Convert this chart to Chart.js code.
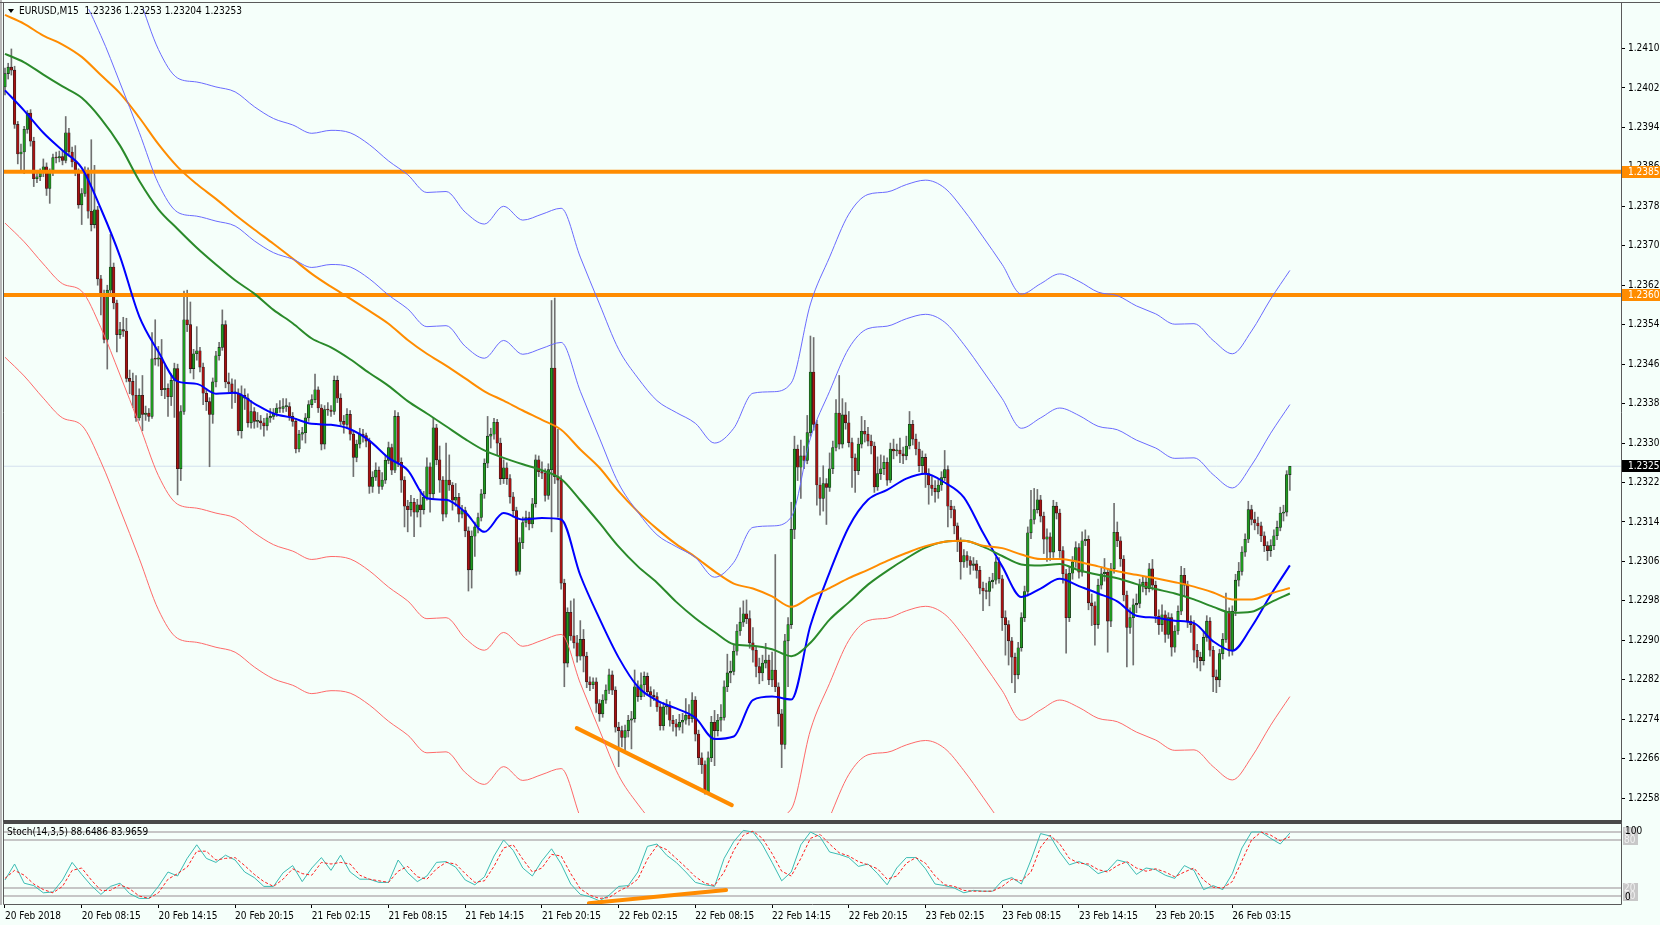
<!DOCTYPE html>
<html>
<head>
<meta charset="utf-8">
<title>EURUSD,M15</title>
<script src="https://cdn.jsdelivr.net/npm/chart.js@4.4.1/dist/chart.umd.min.js"></script>
<style>
  html, body { margin: 0; padding: 0; background: #f5fffa; }
  #wrap { position: relative; width: 1660px; height: 925px; overflow: hidden; }
  #mainBox { position: absolute; left: 0; top: 0; }
  #stochBox { position: absolute; left: 0; top: 822px; }
  canvas { display: block; }
</style>
</head>
<body>
<div id="wrap">
  <div id="mainBox"><canvas id="mainChart" width="1660" height="822"></canvas></div>
  <div id="stochBox"><canvas id="stochChart" width="1660" height="103"></canvas></div>
</div>
<script>
// prices are kept in pips above 1.2000 (e.g. 325.3 -> 1.23253)
const BASE = 1.2;

const firstOpen = 402.2;
const closes = [
  404.9, 406.2, 405.6, 394.6, 388.6, 389.0, 393.6, 396.9, 391.2, 383.6,
  384.0, 384.8, 386.0, 381.6, 384.9, 387.9, 387.8, 388.1, 387.3, 392.9,
  389.0, 387.0, 385.0, 378.3, 380.6, 385.0, 377.0, 374.3, 377.3, 363.3,
  360.3, 351.0, 361.0, 365.7, 358.4, 352.0, 353.0, 352.7, 343.1, 342.5,
  339.7, 335.1, 339.7, 335.8, 336.1, 335.4, 347.1, 347.0, 347.3, 340.8,
  341.1, 339.4, 342.7, 345.1, 324.8, 336.4, 355.0, 354.0, 345.1, 348.1,
  348.7, 345.4, 340.1, 338.4, 335.8, 342.4, 347.7, 349.4, 354.0, 342.4,
  342.0, 340.4, 340.0, 332.5, 339.7, 339.1, 334.1, 336.4, 334.4, 334.5,
  334.1, 333.5, 335.1, 335.4, 336.1, 337.1, 337.0, 337.4, 337.4, 335.4,
  334.4, 328.8, 331.8, 332.1, 335.1, 337.8, 338.8, 340.8, 337.1, 329.8,
  336.8, 336.7, 336.4, 342.7, 339.1, 334.4, 333.8, 335.8, 331.8, 327.1,
  329.8, 331.8, 331.5, 330.4, 321.2, 323.1, 324.5, 321.2, 322.5, 326.5,
  329.1, 324.5, 335.4, 326.1, 322.5, 317.2, 316.5, 318.0, 316.0, 317.5,
  316.5, 319.0, 325.2, 319.7, 333.1, 326.6, 322.5, 315.6, 322.5, 321.5,
  318.4, 319.0, 315.6, 316.3, 312.2, 304.3, 311.1, 313.0, 314.9, 319.7,
  325.9, 331.4, 331.8, 334.2, 330.0, 322.8, 325.0, 322.8, 319.1, 316.3,
  304.0, 309.8, 313.9, 314.9, 313.6, 317.7, 326.6, 324.2, 323.9, 319.4,
  324.6, 345.2, 323.2, 322.5, 301.6, 285.4, 295.7, 290.9, 289.5, 286.8,
  290.2, 286.8, 281.6, 281.0, 281.6, 277.2, 275.1, 277.9, 279.9, 283.0,
  279.9, 272.4, 271.7, 270.3, 271.7, 273.8, 274.1, 280.6, 278.6, 281.0,
  282.7, 279.6, 278.9, 278.6, 276.5, 272.7, 276.5, 276.8, 273.8, 273.1,
  272.4, 273.4, 273.8, 274.8, 274.1, 277.9, 271.0, 266.2, 264.8, 259.3,
  266.2, 273.4, 271.7, 273.8, 274.4, 280.6, 283.4, 283.7, 287.8, 291.9,
  293.7, 295.4, 294.4, 289.5, 288.0, 284.7, 283.4, 285.4, 286.0, 282.0,
  284.0, 280.6, 275.1, 268.9, 289.9, 293.2, 312.5, 328.8, 325.1, 327.4,
  326.5, 332.1, 344.4, 333.8, 321.5, 318.8, 321.8, 321.0, 324.8, 329.1,
  336.1, 329.8, 335.7, 334.1, 330.1, 327.0, 324.4, 329.8, 332.4, 331.8,
  330.4, 329.4, 321.1, 323.8, 324.8, 326.1, 322.5, 328.8, 328.4, 328.6,
  327.8, 327.4, 329.4, 333.8, 330.8, 328.8, 325.4, 327.1, 323.8, 321.5,
  320.8, 320.1, 321.5, 323.0, 324.6, 317.2, 316.5, 313.2, 310.0, 305.9,
  307.2, 306.2, 305.2, 305.5, 304.2, 300.6, 300.0, 299.9, 301.9, 302.2,
  305.9, 302.5, 294.6, 293.2, 289.9, 286.6, 283.0, 288.5, 294.6, 299.9,
  311.8, 314.5, 316.5, 318.5, 315.2, 310.5, 311.0, 307.9, 317.2, 315.8,
  308.2, 303.5, 294.6, 303.6, 305.9, 308.8, 303.8, 310.2, 310.5, 297.6,
  297.0, 293.2, 301.2, 303.5, 303.8, 293.9, 304.5, 311.9, 310.2, 306.5,
  299.2, 292.6, 294.6, 297.2, 297.5, 301.2, 301.8, 300.5, 304.5, 301.2,
  294.9, 293.2, 295.2, 291.2, 294.6, 288.6, 291.9, 295.9, 303.2, 301.2,
  293.9, 293.2, 288.0, 286.6, 285.9, 290.6, 293.9, 288.0, 282.6, 282.0,
  287.3, 290.2, 295.9, 287.9, 295.9, 302.2, 304.0, 307.9, 310.5, 316.5,
  314.5, 313.8, 313.2, 311.2, 309.2, 308.2, 309.2, 311.2, 312.9, 315.8,
  316.0, 323.6, 325.3
];
const highs = [
  406.0, 407.0, 409.9, 406.4, 395.2, 390.6, 394.2, 397.4, 397.6, 392.0,
  385.2, 385.6, 387.6, 386.8, 385.6, 388.6, 389.0, 389.2, 389.2, 396.2,
  393.8, 390.0, 390.3, 385.6, 381.6, 386.0, 385.8, 391.5, 386.3, 378.0,
  364.0, 361.0, 362.0, 372.3, 366.5, 359.0, 354.5, 355.5, 355.3, 344.8,
  344.2, 343.7, 341.0, 343.7, 337.5, 337.0, 352.4, 355.0, 349.6, 351.0,
  346.0, 342.0, 344.0, 346.2, 346.0, 337.6, 360.8, 361.0, 358.6, 349.0,
  353.6, 349.4, 346.2, 341.0, 339.2, 343.2, 348.6, 350.4, 357.0, 354.8,
  344.2, 343.0, 342.8, 341.0, 341.6, 341.0, 340.0, 338.6, 337.2, 336.2,
  335.6, 335.0, 336.0, 337.0, 337.0, 338.0, 338.6, 339.0, 339.0, 338.2,
  336.2, 335.0, 332.6, 333.2, 336.0, 338.6, 339.8, 344.0, 341.4, 337.8,
  337.6, 338.2, 337.6, 343.6, 343.6, 340.0, 335.6, 337.0, 336.6, 332.4,
  330.6, 333.0, 332.8, 332.0, 331.0, 324.2, 326.0, 325.2, 324.0, 327.6,
  330.2, 329.8, 336.6, 336.2, 327.0, 323.2, 318.4, 319.4, 318.8, 318.6,
  320.6, 320.2, 327.0, 326.0, 335.2, 333.8, 329.4, 323.2, 330.0, 327.6,
  322.0, 321.8, 319.8, 317.4, 317.0, 313.0, 312.2, 314.0, 315.8, 320.6,
  326.8, 335.4, 333.0, 335.0, 334.8, 331.0, 326.6, 326.0, 323.6, 320.0,
  317.0, 310.8, 315.0, 316.2, 316.0, 318.8, 327.6, 327.4, 326.2, 324.8,
  325.8, 358.9, 359.4, 332.8, 323.4, 302.4, 296.6, 298.0, 298.4, 291.0,
  294.0, 292.2, 287.6, 282.6, 282.4, 282.4, 278.0, 279.0, 281.0, 284.2,
  283.8, 280.6, 273.4, 272.6, 272.8, 274.8, 275.6, 284.0, 281.8, 283.4,
  283.6, 283.4, 280.6, 280.0, 279.4, 277.2, 277.4, 278.0, 277.6, 274.8,
  274.0, 275.0, 275.2, 278.2, 277.0, 279.4, 278.6, 271.8, 267.2, 265.6,
  267.4, 274.6, 275.8, 275.0, 277.0, 281.8, 287.2, 285.8, 289.0, 293.2,
  296.6, 298.0, 298.2, 296.0, 292.6, 288.8, 286.4, 287.0, 289.4, 287.0,
  287.6, 307.4, 281.4, 276.0, 291.2, 294.6, 318.0, 331.4, 329.6, 330.6,
  329.4, 335.6, 351.7, 351.4, 334.6, 323.0, 325.4, 322.8, 328.0, 330.4,
  338.8, 343.7, 339.0, 338.2, 336.4, 331.0, 327.8, 331.0, 335.4, 334.6,
  333.2, 331.6, 330.2, 327.2, 327.6, 327.4, 327.0, 330.0, 330.8, 329.8,
  331.0, 329.2, 331.4, 336.4, 334.6, 331.8, 330.2, 328.4, 327.8, 324.8,
  323.2, 322.4, 322.6, 324.2, 328.5, 325.4, 318.4, 317.2, 313.8, 310.8,
  308.4, 308.0, 307.0, 306.8, 306.2, 305.0, 301.8, 301.6, 302.8, 303.6,
  306.8, 306.8, 303.2, 296.0, 294.0, 290.6, 287.4, 289.6, 295.6, 301.0,
  313.0, 320.4, 320.8, 320.6, 319.4, 316.0, 312.6, 311.8, 318.4, 318.0,
  316.6, 309.0, 304.4, 304.8, 307.0, 310.0, 309.6, 312.0, 312.4, 311.2,
  299.4, 297.8, 302.4, 304.6, 306.6, 304.6, 305.6, 317.8, 314.0, 311.0,
  307.2, 300.0, 296.6, 298.4, 299.4, 302.4, 303.0, 302.8, 305.6, 306.4,
  302.0, 296.2, 297.2, 296.0, 295.6, 295.4, 293.0, 297.0, 305.0, 304.6,
  302.0, 295.0, 294.0, 289.2, 287.6, 291.6, 295.0, 294.6, 288.8, 284.0,
  288.2, 291.4, 299.6, 296.6, 297.0, 303.4, 305.8, 309.0, 311.6, 318.2,
  317.4, 316.0, 315.0, 314.0, 312.0, 310.0, 310.4, 312.4, 314.2, 317.0,
  317.4, 324.4, 325.3
];
const lows = [
  400.6, 403.8, 404.6, 393.8, 386.6, 385.0, 384.6, 392.8, 390.2, 382.0,
  382.8, 383.2, 384.0, 380.2, 378.6, 384.2, 386.8, 387.0, 386.4, 386.8,
  388.2, 386.0, 384.2, 377.6, 374.3, 380.0, 375.6, 373.0, 373.6, 362.0,
  356.0, 350.3, 345.0, 360.0, 357.2, 348.5, 351.2, 351.6, 342.4, 340.0,
  337.2, 334.4, 334.6, 332.5, 334.6, 334.4, 335.0, 345.8, 345.6, 339.6,
  339.0, 335.4, 337.6, 335.2, 319.5, 322.4, 335.8, 352.6, 344.2, 343.0,
  346.8, 344.4, 337.8, 336.6, 325.2, 334.0, 341.4, 346.8, 348.8, 341.2,
  340.4, 337.0, 338.2, 331.6, 331.0, 336.8, 333.2, 333.0, 333.0, 333.2,
  332.8, 331.4, 332.6, 334.2, 334.8, 335.4, 336.2, 336.2, 336.4, 334.6,
  333.4, 328.0, 328.2, 330.6, 330.0, 334.4, 337.2, 338.2, 336.2, 328.6,
  328.8, 335.6, 335.4, 335.8, 338.2, 333.6, 332.0, 333.0, 330.6, 323.2,
  326.2, 329.0, 330.2, 329.2, 319.8, 320.0, 322.4, 319.8, 320.6, 321.8,
  325.8, 323.6, 324.0, 325.2, 320.0, 313.0, 312.0, 315.2, 311.0, 315.0,
  313.0, 315.6, 318.4, 316.0, 318.8, 325.6, 320.0, 314.2, 315.0, 320.4,
  316.4, 317.2, 314.0, 314.8, 311.0, 300.0, 300.6, 307.0, 311.8, 314.2,
  318.8, 325.0, 329.0, 330.8, 327.6, 321.6, 321.8, 321.6, 317.8, 315.0,
  303.2, 303.4, 308.6, 313.0, 312.4, 312.8, 317.0, 323.2, 322.8, 318.2,
  318.6, 312.0, 321.8, 315.0, 300.4, 280.6, 284.6, 290.0, 288.4, 285.6,
  286.0, 283.6, 280.4, 279.8, 280.2, 275.4, 273.6, 274.4, 277.2, 279.2,
  279.0, 271.4, 264.4, 268.4, 267.2, 270.4, 268.0, 273.4, 277.6, 278.0,
  278.6, 278.8, 276.6, 277.8, 275.6, 271.8, 271.8, 275.0, 272.6, 271.6,
  270.6, 271.8, 271.2, 273.0, 272.8, 273.4, 269.6, 264.8, 263.0, 258.8,
  258.8, 265.4, 264.6, 270.6, 271.6, 273.8, 279.6, 281.4, 283.0, 287.0,
  291.0, 292.8, 293.4, 288.4, 285.6, 282.6, 281.2, 281.8, 284.4, 281.0,
  280.6, 279.6, 272.6, 264.2, 268.0, 280.6, 292.4, 310.6, 322.4, 318.8,
  324.8, 325.8, 331.4, 332.6, 317.4, 315.4, 316.2, 313.5, 320.2, 323.8,
  328.4, 328.8, 329.0, 332.8, 329.2, 321.0, 320.0, 323.6, 329.0, 330.2,
  329.4, 327.8, 320.0, 320.4, 322.6, 323.6, 321.4, 322.0, 326.8, 327.4,
  326.0, 325.8, 326.6, 328.8, 329.6, 327.6, 324.2, 323.8, 321.0, 317.6,
  319.4, 318.0, 318.8, 320.4, 322.4, 313.0, 314.8, 311.6, 308.0, 302.4,
  304.8, 304.8, 303.4, 304.2, 302.6, 299.4, 296.0, 298.4, 297.0, 300.6,
  301.4, 301.6, 292.0, 287.0, 285.0, 281.4, 279.4, 282.2, 287.8, 293.8,
  299.0, 310.6, 313.6, 315.8, 314.0, 307.6, 306.0, 306.2, 306.8, 314.6,
  306.8, 301.6, 287.4, 293.8, 302.4, 304.8, 302.6, 303.0, 309.2, 296.2,
  293.0, 289.0, 292.4, 300.4, 302.0, 287.6, 292.8, 303.6, 309.0, 305.0,
  298.0, 284.6, 291.4, 285.0, 295.6, 296.6, 299.8, 299.2, 299.8, 300.2,
  293.6, 291.2, 291.8, 289.6, 290.4, 286.8, 287.6, 291.2, 295.2, 299.0,
  292.6, 291.6, 285.6, 284.4, 283.8, 285.0, 289.8, 286.8, 279.6, 279.4,
  280.6, 286.2, 289.6, 286.8, 287.0, 295.0, 301.0, 303.2, 307.0, 309.8,
  313.4, 312.4, 311.6, 310.0, 308.0, 306.2, 307.0, 308.4, 310.4, 312.2,
  314.2, 315.2, 320.4
];

// indicator lines, one reading every 6 bars (bar 0 .. 402)
const lineStep = 6;
const fastMa = [
  401.5, 397.4, 392.9, 389.3, 385.8, 377.5, 367.8, 355.7, 348.5, 342.5,
  342.0, 340.0, 340.2, 338.0, 336.0, 335.1, 333.9, 333.7, 332.8, 330.5,
  327.0, 324.5, 318.8, 318.5, 316.0, 312.0, 315.8, 314.5, 314.8, 314.5,
  303.2, 294.4, 286.5, 280.6, 277.8, 276.2, 274.3, 270.0, 270.5, 277.9,
  278.6, 278.0, 293.0, 303.8, 313.0, 318.5, 320.5, 322.8, 323.8, 322.0,
  319.0, 311.8, 305.0, 298.8, 300.5, 302.5, 301.0, 299.5, 297.9, 295.0,
  294.6, 294.0, 293.5, 289.8, 287.9, 292.7, 299.2, 305.2
];
const midMa = [
  408.9, 407.2, 404.7, 402.3, 400.0, 395.8, 390.3, 383.2, 377.4, 373.4,
  369.6, 366.2, 363.0, 360.3, 357.0, 354.3, 351.2, 349.4, 347.0, 344.2,
  341.6, 338.5, 336.0, 333.4, 330.8, 328.5, 327.0, 325.7, 324.5, 322.7,
  318.4, 313.8, 309.0, 305.0, 301.7, 297.8, 294.5, 291.7, 289.2, 288.9,
  288.2, 286.8, 289.5, 294.2, 297.7, 301.3, 304.1, 306.6, 308.8, 310.0,
  310.2, 309.0, 307.1, 305.4, 305.2, 305.5, 304.2, 303.3, 302.6, 301.4,
  300.4, 299.5, 298.3, 296.8, 295.6, 295.8, 297.7, 299.5
];
const slowMa = [
  416.8, 415.0, 412.6, 410.8, 408.3, 404.6, 400.9, 396.0, 390.6, 386.0,
  382.5, 379.5, 376.3, 373.3, 370.4, 367.4, 364.3, 361.7, 359.3, 356.8,
  354.2, 350.9, 348.1, 345.7, 343.1, 340.5, 338.6, 336.6, 334.7, 332.7,
  328.7, 325.0, 320.2, 316.1, 312.6, 309.5, 306.9, 304.0, 301.5, 300.5,
  298.9, 296.8, 298.8, 300.6, 302.6, 304.3, 306.1, 307.7, 309.1, 310.0,
  310.2, 309.2, 308.7, 307.4, 306.5, 306.5, 305.9, 305.0, 304.0, 303.3,
  302.6, 301.8, 300.9, 299.7, 298.3, 298.3, 299.5, 300.6
];
const envUpperOuter = [
  461.0, 457.2, 452.7, 448.7, 447.2, 439.8, 430.2, 420.2, 409.8, 404.0,
  403.2, 402.2, 401.2, 398.2, 395.8, 394.5, 392.8, 393.4, 392.9, 390.5,
  387.2, 384.4, 380.8, 381.0, 376.8, 374.4, 378.0, 375.2, 376.4, 377.6,
  367.7, 358.2, 349.0, 343.2, 338.6, 336.2, 334.0, 330.0, 333.0, 340.1,
  340.4, 342.2, 358.2, 367.7, 376.4, 380.4, 380.9, 382.4, 383.3, 381.7,
  377.2, 371.8, 366.2, 360.2, 362.3, 364.3, 362.8, 360.6, 359.9, 357.8,
  356.2, 354.1, 354.2, 350.8, 348.1, 352.7, 359.2, 365.0
];
const envUpperInner = [
  433.8, 430.0, 425.5, 421.5, 420.0, 412.6, 403.0, 393.0, 382.6, 376.8,
  376.0, 375.0, 374.0, 371.0, 368.6, 367.3, 365.6, 366.2, 365.7, 363.3,
  360.0, 357.2, 353.6, 353.8, 349.6, 347.2, 350.8, 348.0, 349.2, 350.4,
  340.5, 331.0, 321.8, 316.0, 311.4, 309.0, 306.8, 302.8, 305.8, 312.9,
  313.2, 315.0, 331.0, 340.5, 349.2, 353.2, 353.7, 355.2, 356.1, 354.5,
  350.0, 344.6, 339.0, 333.0, 335.1, 337.1, 335.6, 333.4, 332.7, 330.6,
  329.0, 326.9, 327.0, 323.6, 320.9, 325.5, 332.0, 337.8
];
const envLowerInner = [
  374.6, 370.8, 366.3, 362.3, 360.8, 353.4, 343.8, 333.8, 323.4, 317.6,
  316.8, 315.8, 314.8, 311.8, 309.4, 308.1, 306.4, 307.0, 306.5, 304.1,
  300.8, 298.0, 294.4, 294.6, 290.4, 288.0, 291.6, 288.8, 290.0, 291.2,
  281.3, 271.8, 262.6, 256.8, 252.2, 249.8, 247.6, 243.6, 246.6, 253.7,
  254.0, 255.8, 271.8, 281.3, 290.0, 294.0, 294.5, 296.0, 296.9, 295.3,
  290.8, 285.4, 279.8, 273.8, 275.9, 277.9, 276.4, 274.2, 273.5, 271.4,
  269.8, 267.7, 267.8, 264.4, 261.7, 266.3, 272.8, 278.6
];
const envLowerOuter = [
  347.4, 343.6, 339.1, 335.1, 333.6, 326.2, 316.6, 306.6, 296.2, 290.4,
  289.6, 288.6, 287.6, 284.6, 282.2, 280.9, 279.2, 279.8, 279.3, 276.9,
  273.6, 270.8, 267.2, 267.4, 263.2, 260.8, 264.4, 261.6, 262.8, 264.0,
  254.1, 244.6, 235.4, 229.6, 225.0, 222.6, 220.4, 216.4, 219.4, 226.5,
  226.8, 228.6, 244.6, 254.1, 262.8, 266.8, 267.3, 268.8, 269.7, 268.1,
  263.6, 258.2, 252.6, 246.6, 248.7, 250.7, 249.2, 247.0, 246.3, 244.2,
  242.6, 240.5, 240.6, 237.2, 234.5, 239.1, 245.6, 251.4
];

const levelLines = [385.0, 360.0];
const bidPrice = 325.3;
const trendBars = [178.9, 227.4];
const trendPrices = [272.2, 256.6];
const priceTicks = [258, 266, 274, 282, 290, 298, 306, 314, 322, 330, 338, 346, 354, 362, 370, 378, 386, 394, 402, 410];

// stochastic, one reading every 3 bars
const stochStep = 3;
const stochMain = [
  30, 50, 26, 23, 14, 15, 30, 52, 37, 23, 12, 22, 26, 13, 7, 7, 22, 40, 35, 57,
  74, 57, 52, 61, 55, 40, 33, 22, 22, 39, 48, 28, 45, 58, 42, 61, 40, 31, 31, 27,
  27, 55, 39, 28, 35, 52, 53, 46, 30, 24, 34, 60, 80, 67, 45, 35, 54, 69, 50, 25,
  12, 9, 4, 11, 22, 23, 40, 72, 75, 61, 52, 40, 27, 24, 22, 57, 78, 92, 90, 74,
  52, 29, 40, 74, 90, 84, 65, 62, 58, 47, 50, 38, 24, 45, 58, 58, 44, 25, 23, 20,
  14, 17, 16, 16, 29, 33, 25, 55, 88, 85, 65, 49, 53, 48, 38, 42, 55, 52, 37, 45,
  43, 36, 32, 48, 42, 18, 23, 18, 38, 70, 90, 90, 82, 75, 88.65
];
const stochSignal = [
  32, 42, 36, 25, 18, 14, 22, 42, 45, 30, 17, 17, 24, 19, 10, 7, 14, 31, 38, 46,
  66, 66, 55, 57, 58, 48, 37, 28, 22, 31, 44, 38, 36, 52, 50, 52, 50, 36, 31, 29,
  27, 41, 47, 34, 31, 44, 52, 50, 38, 27, 29, 47, 70, 74, 56, 40, 45, 62, 60, 38,
  19, 11, 7, 8, 16, 22, 31, 56, 73, 68, 57, 46, 34, 26, 23, 40, 67, 86, 91, 82,
  63, 41, 35, 57, 82, 87, 75, 64, 60, 53, 49, 44, 31, 35, 51, 58, 51, 35, 24, 22,
  17, 16, 16, 16, 22, 31, 29, 40, 71, 86, 75, 57, 51, 50, 43, 40, 48, 53, 45, 41,
  44, 40, 34, 40, 45, 30, 21, 20, 28, 54, 80, 90, 86, 79, 83.97
];
const stochLevels = [90, 80, 20, 10];
const stochTrendBars = [182.7, 225.6];
const stochTrendValues = [1, 17.5];

const timeLabels = [
  '20 Feb 2018', '20 Feb 08:15', '20 Feb 14:15', '20 Feb 20:15',
  '21 Feb 02:15', '21 Feb 08:15', '21 Feb 14:15', '21 Feb 20:15',
  '22 Feb 02:15', '22 Feb 08:15', '22 Feb 14:15', '22 Feb 20:15',
  '23 Feb 02:15', '23 Feb 08:15', '23 Feb 14:15', '23 Feb 20:15',
  '26 Feb 03:15'
];
const labelEvery = 24;

// ---------------------------------------------------------------

const FONT = "'DejaVu Sans Condensed', 'DejaVu Sans', sans-serif";
Chart.defaults.font.family = FONT;
Chart.defaults.font.size = 10;
Chart.defaults.color = '#000';

const X_MIN = -0.31, X_MAX = 505.6;
const BG = '#f5fffa';
const fmt = v => (BASE + v / 10000).toFixed(5);
const opens = closes.map((c, i) => i === 0 ? firstOpen : closes[i - 1]);
const bars = closes.map((c, i) => i);
const onGrid = (arr, step) => arr.map((v, k) => ({ x: k * step, y: v }));
const flat = v => [{ x: X_MIN, y: v }, { x: X_MAX, y: v }];

function line(data, color, width, extra) {
  return Object.assign({
    type: 'line', data, borderColor: color, borderWidth: width,
    pointRadius: 0, fill: false, cubicInterpolationMode: 'monotone', order: 0
  }, extra || {});
}

const mainDecor = {
  id: 'mainDecor',
  beforeDraw(chart) {
    const { ctx } = chart;
    ctx.save();
    ctx.fillStyle = BG;
    ctx.fillRect(0, 0, chart.width, chart.height);
    ctx.restore();
  },
  afterDraw(chart) {
    const { ctx, chartArea: a } = chart;
    const y = chart.scales.y;
    ctx.save();
    // window frame
    ctx.fillStyle = '#b8b8b8';
    ctx.fillRect(0, 0, 2, chart.height);
    ctx.strokeStyle = '#5a5a5a';
    ctx.lineWidth = 1;
    ctx.beginPath();
    ctx.moveTo(3.5, 2.5); ctx.lineTo(3.5, chart.height);
    ctx.moveTo(0, 2.5); ctx.lineTo(chart.width, 2.5);
    ctx.moveTo(a.right + 0.5, 2.5); ctx.lineTo(a.right + 0.5, chart.height);
    ctx.stroke();
    ctx.lineWidth = 2;
    ctx.strokeStyle = '#4a4a4a';
    ctx.beginPath();
    ctx.moveTo(3, chart.height - 1); ctx.lineTo(a.right + 1, chart.height - 1);
    ctx.stroke();

    // symbol header
    ctx.fillStyle = '#000';
    ctx.beginPath();
    ctx.moveTo(8, 9); ctx.lineTo(14, 9); ctx.lineTo(11, 13); ctx.closePath();
    ctx.fill();
    ctx.font = '10px ' + FONT;
    ctx.textBaseline = 'middle';
    ctx.textAlign = 'left';
    ctx.fillText('EURUSD,M15  1.23236 1.23253 1.23204 1.23253', 19, 11);

    // price tags on the scale
    const tag = (v, bg) => {
      const yy = Math.round(y.getPixelForValue(v));
      ctx.fillStyle = bg;
      ctx.fillRect(a.right + 1, yy - 6, 40, 12);
      ctx.fillStyle = '#fff';
      ctx.fillText(fmt(v), a.right + 7, yy);
    };
    levelLines.forEach(v => tag(v, '#ff8c00'));
    tag(bidPrice, '#000');
    ctx.restore();
  }
};

new Chart(document.getElementById('mainChart'), {
  type: 'bar',
  data: {
    datasets: [
      line(flat(bidPrice), '#d4e0ee', 1, { order: 9 }),
      {
        label: 'wicks',
        data: bars.map(i => ({ x: i, y: [lows[i], highs[i]] })),
        backgroundColor: '#707070',
        barThickness: 1,
        grouped: false,
        order: 6
      },
      {
        label: 'bodies',
        data: bars.map(i => ({ x: i, y: [opens[i], closes[i]] })),
        backgroundColor: c => closes[c.dataIndex] >= opens[c.dataIndex] ? '#1f9a1f' : '#a81212',
        borderColor: '#1c1c1c',
        borderWidth: 0.6,
        borderSkipped: false,
        barThickness: 2.6,
        minBarLength: 1,
        grouped: false,
        order: 5
      },
      line(onGrid(envUpperOuter, lineStep), '#6b6bff', 1),
      line(onGrid(envUpperInner, lineStep), '#6b6bff', 1),
      line(onGrid(envLowerInner, lineStep), '#ff6a6a', 1),
      line(onGrid(envLowerOuter, lineStep), '#ff6a6a', 1),
      line(onGrid(slowMa, lineStep), '#ff8c00', 2),
      line(onGrid(midMa, lineStep), '#2a8a2a', 2),
      line(onGrid(fastMa, lineStep), '#0000ff', 2),
      ...levelLines.map(v => line(flat(v), '#ff8c00', 4)),
      line(trendBars.map((b, i) => ({ x: b, y: trendPrices[i] })), '#ff8c00', 4, { borderCapStyle: 'round' })
    ]
  },
  options: {
    responsive: false,
    animation: false,
    events: [],
    layout: { padding: { left: 4, top: 4, right: 0, bottom: 0 } },
    plugins: { legend: { display: false }, tooltip: { enabled: false } },
    scales: {
      x: {
        type: 'linear', min: X_MIN, max: X_MAX, offset: false, display: false,
        grid: { offset: false }
      },
      y: {
        position: 'right', min: 255, max: 418,
        afterBuildTicks: s => { s.ticks = priceTicks.map(v => ({ value: v })); },
        afterFit: s => { s.width = 39; },
        ticks: { callback: v => fmt(v), padding: 3, font: { size: 10 } },
        grid: { drawOnChartArea: false, drawTicks: true, tickLength: 4, color: '#000' },
        border: { display: false }
      }
    }
  },
  plugins: [mainDecor]
});

const stochDecor = {
  id: 'stochDecor',
  beforeDraw(chart) {
    const { ctx } = chart;
    ctx.save();
    ctx.fillStyle = BG;
    ctx.fillRect(0, 0, chart.width, chart.height);
    ctx.restore();
  },
  afterDraw(chart) {
    const { ctx, chartArea: a } = chart;
    const y = chart.scales.y;
    ctx.save();
    ctx.fillStyle = '#b8b8b8';
    ctx.fillRect(0, 0, 2, a.bottom + 1);
    ctx.strokeStyle = '#4a4a4a';
    ctx.lineWidth = 2;
    ctx.beginPath();
    ctx.moveTo(3, 1); ctx.lineTo(a.right + 1, 1);
    ctx.stroke();
    ctx.strokeStyle = '#5a5a5a';
    ctx.lineWidth = 1;
    ctx.beginPath();
    ctx.moveTo(3.5, 0); ctx.lineTo(3.5, a.bottom + 0.5);
    ctx.lineTo(a.right + 0.5, a.bottom + 0.5);
    ctx.moveTo(a.right + 0.5, 0); ctx.lineTo(a.right + 0.5, a.bottom + 0.5);
    ctx.stroke();

    ctx.font = '10px ' + FONT;
    ctx.textBaseline = 'middle';
    ctx.textAlign = 'left';
    ctx.fillStyle = '#000';
    ctx.fillText('Stoch(14,3,5) 88.6486 83.9659', 7, 10);

    stochLevels.forEach(lv => {
      const yy = Math.round(y.getPixelForValue(lv));
      ctx.fillStyle = '#c8c8c8';
      ctx.fillRect(a.right + 2, yy - 5, 15, 10);
      ctx.fillStyle = '#f2f2f2';
      ctx.fillText(String(lv), a.right + 3, yy);
    });
    ctx.fillStyle = '#000';
    ctx.fillText('100', a.right + 4, y.getPixelForValue(100) + 7);
    ctx.fillText('0', a.right + 4, y.getPixelForValue(0) - 7);
    ctx.restore();
  }
};

new Chart(document.getElementById('stochChart'), {
  type: 'line',
  data: {
    datasets: [
      ...stochLevels.map(lv => line(flat(lv), '#c6c6c6', 2, { order: 3 })),
      line(stochTrendBars.map((b, i) => ({ x: b, y: stochTrendValues[i] })), '#ff8c00', 4, { borderCapStyle: 'round', order: 0 }),
      line(onGrid(stochSignal, stochStep), '#ff2020', 1, { borderDash: [3, 2], order: 1, cubicInterpolationMode: 'default', tension: 0 }),
      line(onGrid(stochMain, stochStep), '#3cbcb4', 1, { order: 2, cubicInterpolationMode: 'default', tension: 0 })
    ]
  },
  options: {
    responsive: false,
    animation: false,
    events: [],
    layout: { padding: { left: 4, top: 2, right: 39, bottom: 0 } },
    plugins: { legend: { display: false }, tooltip: { enabled: false } },
    scales: {
      x: {
        type: 'linear', min: X_MIN, max: X_MAX, offset: false,
        afterBuildTicks: s => { s.ticks = timeLabels.map((t, i) => ({ value: i * labelEvery })); },
        afterFit: s => { s.height = 21; },
        ticks: {
          callback: (v, i) => timeLabels[i],
          align: 'start', autoSkip: false, maxRotation: 0, padding: 2, font: { size: 10 }
        },
        grid: { drawOnChartArea: false, drawTicks: true, tickLength: 4, color: '#000' },
        border: { display: false }
      },
      y: { display: false, min: 0, max: 100 }
    }
  },
  plugins: [stochDecor]
});
</script>
</body>
</html>
